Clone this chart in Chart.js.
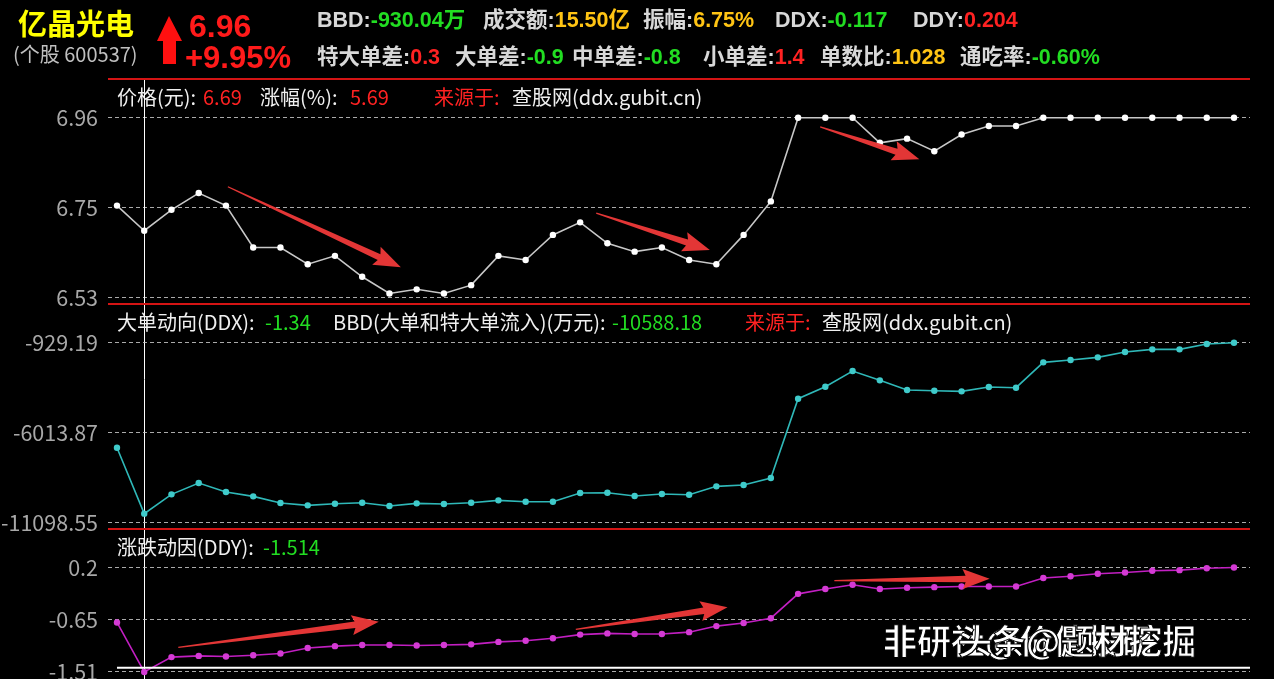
<!DOCTYPE html>
<html><head><meta charset="utf-8">
<script src="https://cdn.jsdelivr.net/npm/chart.js@4/dist/chart.umd.min.js"></script>
<style>
html,body{margin:0;padding:0;background:#000;width:1274px;height:679px;overflow:hidden;}
body{position:relative;font-family:"Noto Sans CJK SC","Noto Sans",sans-serif;}
canvas.layer{position:absolute;left:0;top:0;}
.t{position:absolute;white-space:nowrap;line-height:1;}
.h{font-family:"Liberation Sans","Noto Sans CJK SC",sans-serif;font-weight:bold;font-size:21.5px;color:#d8d8d8;transform:translateY(-50%);}
.p{font-size:20px;color:#f0f0f0;transform:translateY(-50%);}
.r{color:#ff2222}.g{color:#22dd22}.y{color:#ffc414}
.sep{position:absolute;left:108px;width:1142px;height:2px;background:#d41414;}
</style></head><body>
<canvas id="c1" class="layer" width="1274" height="720"></canvas>
<canvas id="c2" class="layer" width="1274" height="720"></canvas>
<canvas id="c3" class="layer" width="1274" height="720"></canvas>

<div class="sep" style="top:78px"></div>
<div class="sep" style="top:303px"></div>
<div class="sep" style="top:528px"></div>

<div class="t" style="left:18px;top:22px;transform:translateY(-50%);font-size:29px;font-weight:bold;color:#ffff00;font-family:'Noto Sans CJK SC'">亿晶光电</div>
<div class="t" style="left:13px;top:54px;transform:translateY(-50%);font-size:20px;color:#c0c0c0;font-family:'Noto Sans CJK SC'">(个股 600537)</div>
<svg style="position:absolute;left:0;top:0" width="300" height="75"><polygon points="169,16 157,41 163,41 163,64 176,64 176,41 182,41" fill="#ff1010"/></svg>
<div class="t" style="left:189px;top:26px;transform:translateY(-50%);font-family:'Liberation Sans';font-weight:bold;font-size:32px;color:#ff1a1a">6.96</div>
<div class="t" style="left:185px;top:57px;transform:translateY(-50%);font-family:'Liberation Sans';font-weight:bold;font-size:31px;color:#ff1a1a">+9.95%</div>

<div class="t h" style="left:317px;top:21px">BBD:<span class="g">-930.04万</span></div>
<div class="t h" style="left:483px;top:21px">成交额:<span class="y">15.50亿</span></div>
<div class="t h" style="left:643px;top:21px">振幅:<span class="y">6.75%</span></div>
<div class="t h" style="left:775px;top:21px">DDX:<span class="g">-0.117</span></div>
<div class="t h" style="left:913px;top:21px">DDY:<span class="r">0.204</span></div>

<div class="t h" style="left:317px;top:58px">特大单差:<span class="r">0.3</span></div>
<div class="t h" style="left:455px;top:58px">大单差:<span class="g">-0.9</span></div>
<div class="t h" style="left:572px;top:58px">中单差:<span class="g">-0.8</span></div>
<div class="t h" style="left:703px;top:58px">小单差:<span class="r">1.4</span></div>
<div class="t h" style="left:820px;top:58px">单数比:<span class="y">1.028</span></div>
<div class="t h" style="left:960px;top:58px">通吃率:<span class="g">-0.60%</span></div>

<div class="t p" style="left:117px;top:97px">价格(元):</div>
<div class="t p r" style="left:203px;top:97px">6.69</div>
<div class="t p" style="left:260px;top:97px">涨幅(%):</div>
<div class="t p r" style="left:350px;top:97px">5.69</div>
<div class="t p r" style="left:434px;top:97px">来源于:</div>
<div class="t p" style="left:512px;top:97px">查股网(ddx.gubit.cn)</div>

<div class="t p" style="left:117px;top:322px">大单动向(DDX):</div>
<div class="t p g" style="left:265px;top:322px">-1.34</div>
<div class="t p" style="left:333px;top:322px">BBD(大单和特大单流入)(万元):</div>
<div class="t p g" style="left:612px;top:322px">-10588.18</div>
<div class="t p r" style="left:745px;top:322px">来源于:</div>
<div class="t p" style="left:822px;top:322px">查股网(ddx.gubit.cn)</div>

<div class="t p" style="left:117px;top:547px">涨跌动因(DDY):</div>
<div class="t p g" style="left:263px;top:547px">-1.514</div>

<div class="t" style="left:883px;top:640px;transform:translateY(-50%);font-size:34px;font-weight:bold;color:#fff;-webkit-text-stroke:1px #000;font-family:'Noto Sans CJK SC'">非研社@价值投研</div>
<div class="t" style="left:958px;top:640px;transform:translateY(-50%);font-size:34px;font-weight:bold;color:#fff;-webkit-text-stroke:1px #000;font-family:'Noto Sans CJK SC'">头条@题材挖掘</div>

<script>
// ---- data ----
const priceValues = [6.75,6.69,6.74,6.78,6.75,6.65,6.65,6.61,6.63,6.58,6.54,6.55,6.54,6.56,6.63,6.62,6.68,6.71,6.66,6.64,6.65,6.62,6.61,6.68,6.76,6.96,6.96,6.96,6.90,6.91,6.88,6.92,6.94,6.94,6.96,6.96,6.96,6.96,6.96,6.96,6.96,6.96];
const bbdValues = [-6861,-10588.18,-9498,-8857,-9366,-9611,-9987,-10119,-10025,-9968,-10157,-10006,-10044,-9968,-9837,-9912,-9912,-9422,-9404,-9592,-9479,-9516,-9045,-8970,-8575,-4093,-3415,-2530,-3057,-3603,-3641,-3678,-3434,-3471,-2040,-1908,-1758,-1456,-1306,-1306,-1004,-930.04];
const ddyValues = [-0.70,-1.514,-1.27,-1.25,-1.26,-1.24,-1.21,-1.12,-1.09,-1.07,-1.07,-1.08,-1.07,-1.06,-1.02,-1.00,-0.96,-0.90,-0.88,-0.89,-0.89,-0.86,-0.76,-0.71,-0.63,-0.23,-0.15,-0.08,-0.15,-0.13,-0.12,-0.11,-0.11,-0.11,0.03,0.06,0.10,0.12,0.15,0.16,0.19,0.204];

const priceTickValues = [6.96, 6.745, 6.53];
const priceTickLabels = ['6.96','6.75','6.53'];
const bbdTickValues = [-929.19, -6013.87, -11098.55];
const bbdTickLabels = ['-929.19','-6013.87','-11098.55'];
const ddyTickValues = [0.2, -0.655, -1.51];
const ddyTickLabels = ['0.2','-0.65','-1.51'];

const crosshairIndex = 1;
const ddyBaseLine = -1.445;

// annotation arrows in data coordinates: [fromIndex, fromValue, toIndex, toValue]
const priceArrows = [[4.07,6.795,10.42,6.603],[17.59,6.732,21.76,6.644],[25.81,6.938,29.45,6.861]];
const ddyArrows = [[2.25,-1.109,9.61,-0.688],[16.84,-0.813,22.41,-0.451],[26.33,-0.014,32.03,0.019]];

// ---- drawing helpers ----
function drawArrow(ctx, x1, y1, x2, y2){
  const dx=x2-x1, dy=y2-y1, L=Math.hypot(dx,dy); const ux=dx/L, uy=dy/L; const nx=-uy, ny=ux;
  const h=24, sw=3.2, hw=10;
  const sx=x2-ux*h, sy=y2-uy*h;
  ctx.save(); ctx.fillStyle='rgba(236,56,56,0.96)';
  ctx.beginPath();
  ctx.moveTo(x1+nx*0.6,y1+ny*0.6);
  ctx.lineTo(sx+nx*sw,sy+ny*sw);
  ctx.lineTo(sx-ux*3+nx*hw,sy-uy*3+ny*hw);
  ctx.lineTo(x2,y2);
  ctx.lineTo(sx-ux*3-nx*hw,sy-uy*3-ny*hw);
  ctx.lineTo(sx-nx*sw,sy-ny*sw);
  ctx.lineTo(x1-nx*0.6,y1-ny*0.6);
  ctx.closePath(); ctx.fill(); ctx.restore();
}
function arrowPlugin(list){
  return {id:'arrows', afterDatasetsDraw(chart){
    const xs=chart.scales.x, ys=chart.scales.y, ctx=chart.ctx;
    list.forEach(a=>drawArrow(ctx, xs.getPixelForValue(a[0]), ys.getPixelForValue(a[1]), xs.getPixelForValue(a[2]), ys.getPixelForValue(a[3])));
  }};
}
const crosshairPlugin = {id:'cross', afterDraw(chart){
  const x=Math.round(chart.scales.x.getPixelForValue(crosshairIndex))+0.5, ctx=chart.ctx;
  ctx.save(); ctx.strokeStyle='#ffffff'; ctx.lineWidth=1;
  ctx.beginPath(); ctx.moveTo(x,80); ctx.lineTo(x,679); ctx.stroke(); ctx.restore();
}};
const baseLinePlugin = {id:'base', afterDatasetsDraw(chart){
  const y=chart.scales.y.getPixelForValue(ddyBaseLine), ctx=chart.ctx;
  ctx.save(); ctx.strokeStyle='#ffffff'; ctx.lineWidth=2;
  ctx.beginPath(); ctx.moveTo(chart.scales.x.getPixelForValue(0), y); ctx.lineTo(chart.chartArea.right, y); ctx.stroke(); ctx.restore();
}};

function makeChart(id, values, lineColor, pointColor, tickValues, tickLabels, padTop, padBottom, plugins){
  const ymin = Math.min(...tickValues), ymax = Math.max(...tickValues);
  return new Chart(document.getElementById(id), {
    type:'line',
    data:{datasets:[{data: values.map((v,i)=>({x:i,y:v})), borderColor:lineColor, borderWidth:1.6,
      pointRadius:3.2, pointBackgroundColor:pointColor, pointBorderWidth:0, tension:0, clip:false}]},
    options:{
      responsive:false, animation:false, events:[],
      layout:{padding:{top:padTop, bottom:padBottom, left:0, right:24}},
      plugins:{legend:{display:false}, tooltip:{enabled:false}},
      scales:{
        x:{type:'linear', min:-0.33, max:41.587, display:false},
        y:{type:'linear', min:ymin, max:ymax,
          afterBuildTicks(axis){ axis.ticks = tickValues.map(v=>({value:v})); },
          afterFit(axis){ axis.width = 108; },
          grid:{color:'rgba(200,200,200,0.85)', lineWidth:1, drawTicks:false},
          border:{display:false, dash:[4,3]},
          ticks:{padding:10, color:'#a8a8a8', font:{family:'"Noto Sans CJK SC","Noto Sans",sans-serif', size:21.5},
            callback(v,i){ return tickLabels[i]; }}
        }
      }
    },
    plugins
  });
}

makeChart('c1', priceValues, '#c8c8c8', '#ffffff', priceTickValues, priceTickLabels, 117.7, 720-297.7, [arrowPlugin(priceArrows), crosshairPlugin]);
makeChart('c2', bbdValues, '#2fb8b8', '#3fcaca', bbdTickValues, bbdTickLabels, 342.7, 720-522.7, []);
makeChart('c3', ddyValues, '#c21fc2', '#d43ad4', ddyTickValues, ddyTickLabels, 567.7, 720-671.7, [arrowPlugin(ddyArrows), baseLinePlugin]);
</script>
</body></html>
